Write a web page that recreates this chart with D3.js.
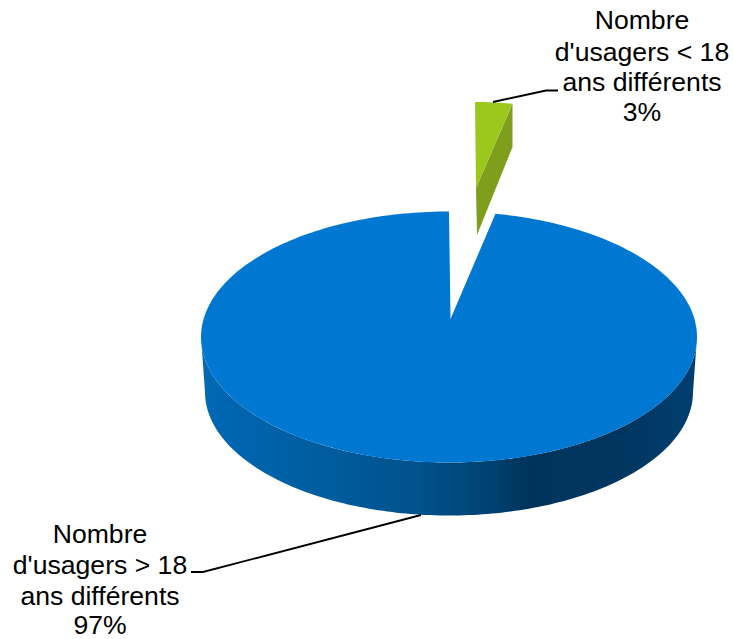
<!DOCTYPE html>
<html><head><meta charset="utf-8">
<style>html,body{margin:0;padding:0;background:#fff}svg{display:block}text{font-family:"Liberation Sans",Arial,sans-serif;font-size:26.6px;fill:#000;text-anchor:middle}</style>
<script src="https://cdn.jsdelivr.net/npm/d3@7/dist/d3.min.js"></script></head><body>
<script>
const categories = ["Nombre d'usagers > 18 ans différents", "Nombre d'usagers < 18 ans différents"];
const values = [97, 3];
const percentLabels = ["97%", "3%"];
const labelLines = [
  ["Nombre", "d'usagers > 18", "ans différents", "97%"],
  ["Nombre", "d'usagers < 18", "ans différents", "3%"]
];
const sliceColors = ["#0078d2", "#9cc71f"];
const sliceDark = "#7f9f1f";
const wallStops = [[0,"#0668b5"],[0.2,"#055fa3"],[0.45,"#00518b"],[0.6,"#003f6c"],[0.66,"#00335c"],[0.85,"#003660"],[1,"#003f70"]];

const W = 733, H = 639;
const svg = d3.select("body").append("svg").attr("width", W).attr("height", H);
const defs = svg.append("defs");
const grad = defs.append("linearGradient").attr("id","wall");
grad.selectAll("stop").data(wallStops).join("stop")
  .attr("offset", d=>d[0]).attr("stop-color", d=>d[1]);
defs.append("filter").attr("id","soft").append("feGaussianBlur").attr("stdDeviation",0.45);

// d3.pie gives the angles; the pie starts at the top and runs clockwise with the small slice first
const pie = d3.pie().sort(null).value(d=>d).startAngle(0.03*2*Math.PI).endAngle(2*Math.PI+0.03*2*Math.PI);
const arcs = pie(values);
const blue = arcs[0];
const green = {startAngle: arcs[1].startAngle-2*Math.PI, endAngle: arcs[1].endAngle-2*Math.PI};

const rim = e => a => [e.cx + e.rx*Math.sin(a), e.cy - e.ry*Math.cos(a)];
const arcPts = (e, a0, a1, n=160) => d3.range(n+1).map(i=>rim(e)(a0+(a1-a0)*i/n));
const line = d3.line();
const g = svg.append("g").attr("filter","url(#soft)");

// blue slice
const topE = {cx:449, cy:337, rx:248, ry:125.5};
const botE = {cx:449, cy:392, rx:244, ry:123.5};
const apexB = [450.5, 319];
const wallA0 = Math.PI/2, wallA1 = 3*Math.PI/2;
g.append("path").attr("d", line(arcPts(topE,wallA0,wallA1).concat(arcPts(botE,wallA1,wallA0))))
  .attr("fill","url(#wall)");
g.append("path").attr("d", line([apexB].concat(arcPts(topE,blue.startAngle,blue.endAngle,300))) + "Z")
  .attr("fill", sliceColors[0]);

// green slice
const gTop = {cx:475, cy:206, rx:200, ry:104};
const apexG = [476, 188];
const gDepth = [[512.5,147],[477,235]];
const gRim = arcPts(gTop, green.startAngle, green.endAngle, 12);
g.append("path").attr("d", line([gRim[gRim.length-1]].concat(gDepth,[apexG])) + "Z").attr("fill", sliceDark);
g.append("path").attr("d", line([apexG].concat(gRim)) + "Z").attr("fill", sliceColors[1]);

// leaders
const leaders = [
  [[421,515],[203,572],[191,572]],
  [[493,102],[546,90.5],[558,90.5]]
];
svg.selectAll("path.leader").data(leaders).join("path").attr("class","leader")
  .attr("d", d=>line(d)).attr("fill","none").attr("stroke","#000").attr("stroke-width",1.9);

// labels
const labelPos = [{x:100, y:[543,574,605,634]},{x:642, y:[29,60.5,90.5,121]}];
labelLines.forEach((ls,i)=>{
  svg.append("g").selectAll("text").data(ls).join("text")
    .attr("x",labelPos[i].x).attr("y",(d,j)=>labelPos[i].y[j]).text(d=>d);
});
</script></body></html>
